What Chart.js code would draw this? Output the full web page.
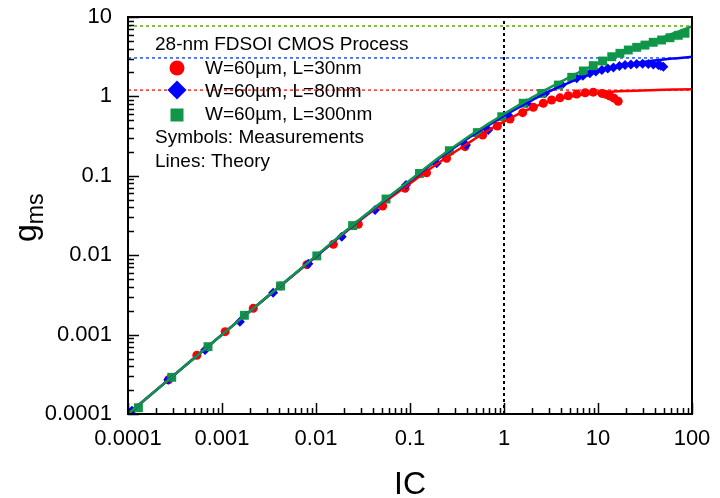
<!DOCTYPE html>
<html>
<head>
<meta charset="utf-8">
<script src="https://cdn.jsdelivr.net/npm/chart.js@4.4.1/dist/chart.umd.min.js"></script>
<style>
body { margin: 0; background: #fff; }
#wrap { width: 720px; height: 498px; }
</style>
</head>
<body>
<div id="wrap"><canvas id="myChart"></canvas></div>
<script>
// tick labels
const xTickVals = [0.0001, 0.001, 0.01, 0.1, 1, 10, 100]
const xTickLabels = ['0.0001', '0.001', '0.01', '0.1', '1', '10', '100']
const yTickVals = [0.0001, 0.001, 0.01, 0.1, 1, 10]
const yTickLabels = ['0.0001', '0.001', '0.01', '0.1', '1', '10']

// measurements, L=30nm
const icR = [2.7e-4, 5.4e-4, 1.08e-3, 2.15e-3, 4.2e-3, 8e-3, 0.0153, 0.0282, 0.0512, 0.0885, 0.150, 0.245, 0.385, 0.593, 0.85, 1.16, 1.58, 2.05, 2.62, 3.21, 3.94, 4.83, 5.93, 7.3, 8.9, 11, 12.2, 13.4, 14.8, 16.4]
const gR  = [2.7e-4, 5.5e-4, 1.09e-3, 2.14e-3, 4.1e-3, 7.6e-3, 0.0137, 0.0245, 0.0417, 0.0695, 0.109, 0.166, 0.233, 0.327, 0.424, 0.52, 0.624, 0.73, 0.82, 0.90, 0.96, 1.02, 1.07, 1.11, 1.13, 1.09, 1.06, 1.01, 0.95, 0.87]

// measurements, L=80nm
const icB = [1.1e-4, 2.68e-4, 6.6e-4, 1.55e-3, 3.5e-3, 8.3e-3, 0.0188, 0.0425, 0.0906, 0.192, 0.394, 0.68, 1.11, 1.74, 2.73, 4.1, 5.93, 6.9, 8.2, 9.5, 11, 12.7, 14.6, 16.9, 19.4, 22.4, 25.8, 29.8, 34.3, 38.8, 43.8, 46.5, 49.6]
const gB  = [1.1e-4, 2.7e-4, 6.4e-4, 1.45e-3, 3.37e-3, 7.8e-3, 0.0171, 0.037, 0.0766, 0.144, 0.244, 0.377, 0.58, 0.82, 1.09, 1.39, 1.69, 1.82, 1.95, 2.06, 2.15, 2.24, 2.32, 2.41, 2.48, 2.53, 2.56, 2.57, 2.56, 2.53, 2.48, 2.43, 2.37]

// measurements, L=300nm
const icG = [1.29e-4, 2.92e-4, 7.1e-4, 1.73e-3, 4.2e-3, 0.0102, 0.0245, 0.0556, 0.126, 0.262, 0.52, 0.946, 1.6, 2.52, 3.79, 5.25, 6.98, 8.9, 11.2, 14, 17.1, 21, 25.8, 31.6, 38.7, 47.5, 58.3, 71.4, 84.3]
const gG  = [1.2e-4, 2.9e-4, 7.05e-4, 1.75e-3, 4.1e-3, 0.0098, 0.0236, 0.051, 0.107, 0.207, 0.35, 0.555, 0.82, 1.09, 1.39, 1.74, 2.09, 2.44, 2.79, 3.16, 3.49, 3.84, 4.15, 4.43, 4.8, 5.13, 5.48, 5.88, 6.24]

// theory
const icT = [1e-4, 3e-4, 1e-3, 3e-3, 0.01, 0.03, 0.1, 0.2, 0.4, 0.7, 1, 1.5, 2, 3, 5, 7, 10, 15, 20, 30, 50, 70, 100]
const thR = [1e-4, 3e-4, 1e-3, 2.95e-3, 0.0096, 0.028, 0.08, 0.145, 0.25, 0.38, 0.48, 0.62, 0.72, 0.86, 0.99, 1.05, 1.1, 1.15, 1.17, 1.19, 1.21, 1.22, 1.23]
const thB = [1e-4, 3e-4, 1e-3, 2.97e-3, 0.0097, 0.0285, 0.086, 0.163, 0.29, 0.44, 0.57, 0.75, 0.9, 1.15, 1.5, 1.75, 2.1, 2.35, 2.52, 2.72, 2.92, 3.03, 3.15]
const thG = [1e-4, 3e-4, 1e-3, 2.97e-3, 0.0098, 0.029, 0.088, 0.168, 0.3, 0.46, 0.6, 0.8, 0.97, 1.27, 1.75, 2.14, 2.62, 3.25, 3.75, 4.55, 5.6, 6.5, 7.6]

// asymptotes and IC = 1 marker
const limIC = [0.0001, 100]
const limR = 1.2
const limB = 3.05
const limG = 7.7
const markIC = 1
const markY = [0.0001, 10]

function pts(xs, ys) {
    let out = []
    for (let i = 0; i < xs.length; i++) {
        out.push({x: xs[i], y: ys[i]})
    }
    return out
}

function refLine(color, data, width) {
    return {
        data: data,
        showLine: true,
        borderColor: color,
        borderWidth: width,
        borderDash: [3, 3],
        pointRadius: 0,
        order: 10
    }
}

function theory(color, data, order) {
    return {
        data: data,
        showLine: true,
        borderColor: color,
        borderWidth: 2.5,
        pointRadius: 0,
        cubicInterpolationMode: 'monotone',
        order: order
    }
}

function meas(color, style, r, data, order) {
    return {
        data: data,
        showLine: false,
        pointStyle: style,
        pointRadius: r,
        pointBackgroundColor: color,
        pointBorderColor: color,
        pointBorderWidth: 0,
        order: order
    }
}

const RED = '#ff0000'
const BLUE = '#0000ff'
const GREEN = '#0f9648'
const FONT = "'Liberation Sans', Arial, sans-serif"

const frame = {
    id: 'frame',
    afterDatasetsDraw(chart) {
        const ctx = chart.ctx
        const a = chart.chartArea
        const x = chart.scales.x
        const y = chart.scales.y
        ctx.save()
        ctx.strokeStyle = '#000'
        ctx.lineWidth = 1.5
        ctx.beginPath()
        for (let d = -4; d <= 2; d++) {
            for (let m = 1; m < 10; m++) {
                let v = m * Math.pow(10, d)
                if (v > 100.0001) break
                let px = Math.round(x.getPixelForValue(v)) + 0.5
                let len = m == 1 ? 11 : 6
                ctx.moveTo(px, a.bottom)
                ctx.lineTo(px, a.bottom - len)
            }
        }
        for (let d = -4; d <= 1; d++) {
            for (let m = 1; m < 10; m++) {
                let v = m * Math.pow(10, d)
                if (v > 10.0001) break
                let py = Math.round(y.getPixelForValue(v)) + 0.5
                let len = m == 1 ? 11 : 6
                ctx.moveTo(a.left, py)
                ctx.lineTo(a.left + len, py)
            }
        }
        ctx.stroke()
        ctx.lineWidth = 2
        ctx.strokeRect(a.left, a.top, a.right - a.left, a.bottom - a.top)
        ctx.restore()
    },
    afterDraw(chart) {
        const ctx = chart.ctx
        ctx.save()
        ctx.fillStyle = '#000'
        ctx.textBaseline = 'alphabetic'

        // axis titles
        ctx.font = '32px ' + FONT
        ctx.textAlign = 'center'
        ctx.fillText('IC', 410, 494)

        ctx.translate(36, 242)
        ctx.rotate(-Math.PI / 2)
        ctx.textAlign = 'left'
        ctx.font = '32px ' + FONT
        ctx.fillText('g', 0, 0)
        let gw = ctx.measureText('g').width
        ctx.font = '23px ' + FONT
        ctx.fillText('ms', gw, 7)
        ctx.setTransform(1, 0, 0, 1, 0, 0)

        // legend block
        ctx.font = '19px ' + FONT
        ctx.textAlign = 'left'
        ctx.fillText('28-nm FDSOI CMOS Process', 155, 50)
        ctx.fillText('W=60\u00b5m, L=30nm', 205, 74)
        ctx.fillText('W=60\u00b5m, L=80nm', 205, 97)
        ctx.fillText('W=60\u00b5m, L=300nm', 205, 120)
        ctx.fillText('Symbols: Measurements', 155, 143)
        ctx.fillText('Lines: Theory', 155, 167)

        ctx.fillStyle = RED
        ctx.beginPath()
        ctx.arc(177, 68, 7.5, 0, Math.PI * 2)
        ctx.fill()

        ctx.fillStyle = BLUE
        ctx.beginPath()
        ctx.moveTo(177, 80.5)
        ctx.lineTo(186.5, 90)
        ctx.lineTo(177, 99.5)
        ctx.lineTo(167.5, 90)
        ctx.closePath()
        ctx.fill()

        ctx.fillStyle = GREEN
        ctx.fillRect(170.5, 108.5, 13, 13)
        ctx.restore()
    }
}

new Chart(document.getElementById('myChart'), {
    type: 'scatter',
    data: {
        datasets: [
            refLine('#5aaa00', pts(limIC, [limG, limG]), 1.5),
            refLine('#1f4fff', pts(limIC, [limB, limB]), 1.5),
            refLine('#ff2a2a', pts(limIC, [limR, limR]), 1.5),
            refLine('#000', pts([markIC, markIC], markY), 2),
            meas(RED, 'circle', 4.5, pts(icR, gR), 6),
            meas(BLUE, 'rectRot', 5, pts(icB, gB), 5),
            meas(GREEN, 'rect', 6.3, pts(icG, gG), 4),
            theory(RED, pts(icT, thR), 3),
            theory(BLUE, pts(icT, thB), 2),
            theory(GREEN, pts(icT, thG), 1)
        ]
    },
    options: {
        responsive: true,
        maintainAspectRatio: false,
        animation: false,
        layout: { padding: { left: 0, right: 28, top: 17, bottom: 0 } },
        plugins: { legend: { display: false }, tooltip: { enabled: false } },
        scales: {
            x: {
                type: 'logarithmic',
                min: 0.0001,
                max: 100,
                afterBuildTicks: (s) => { s.ticks = xTickVals.map(v => ({ value: v })) },
                afterFit: (s) => {
                    s.height = 84
                    s.paddingLeft = 0
                    s.paddingRight = 0
                },
                grid: { display: false, drawTicks: false },
                border: { display: false },
                ticks: {
                    autoSkip: false,
                    maxRotation: 0,
                    padding: 12,
                    color: '#000',
                    font: { size: 22, family: FONT },
                    callback: (v, i) => xTickLabels[i]
                }
            },
            y: {
                type: 'logarithmic',
                min: 0.0001,
                max: 10,
                afterBuildTicks: (s) => { s.ticks = yTickVals.map(v => ({ value: v })) },
                afterFit: (s) => {
                    s.width = 128
                    s.paddingTop = 0
                    s.paddingBottom = 0
                },
                grid: { display: false, drawTicks: false },
                border: { display: false },
                ticks: {
                    autoSkip: false,
                    padding: 16,
                    color: '#000',
                    font: { size: 22, family: FONT },
                    callback: (v, i) => yTickLabels[i]
                }
            }
        }
    },
    plugins: [frame]
})
</script>
</body>
</html>
